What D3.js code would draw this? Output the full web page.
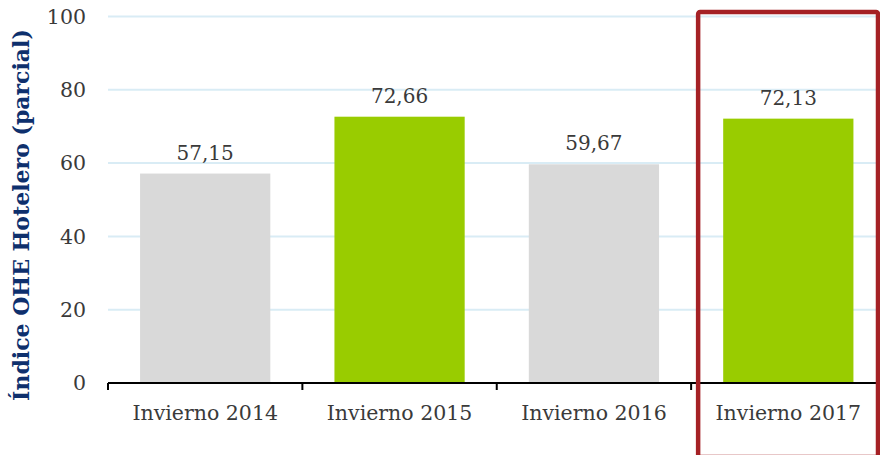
<!DOCTYPE html>
<html>
<head>
<meta charset="utf-8">
<script src="https://cdn.jsdelivr.net/npm/d3@7"></script>
<style>
  html, body { margin: 0; padding: 0; background: #fff; }
  svg { display: block; }
</style>
</head>
<body>
<svg id="chart" width="880" height="455"></svg>
<script>
// Winter hotel index (partial), one bar per season
const categories = ["Invierno 2014", "Invierno 2015", "Invierno 2016", "Invierno 2017"];
const values = [57.15, 72.66, 59.67, 72.13];
const valueLabels = ["57,15", "72,66", "59,67", "72,13"];
const barColors = ["#d9d9d9", "#99cc00", "#d9d9d9", "#99cc00"];
const yTicks = [0, 20, 40, 60, 80, 100];
const yTitle = "Índice OHE Hotelero (parcial)";
const highlighted = "Invierno 2017";

const svg = d3.select("#chart");
const FONT = "'DejaVu Serif', 'Liberation Serif', serif";

const x = d3.scaleBand()
  .domain(categories)
  .range([108, 885.5])
  .paddingInner(0.33)
  .paddingOuter(0.165);

const y = d3.scaleLinear().domain([0, 100]).range([383, 16.5]);

// horizontal gridlines
svg.append("g")
  .selectAll("line")
  .data(yTicks.filter(d => d > 0))
  .join("line")
  .attr("x1", 108).attr("x2", 880)
  .attr("y1", d => y(d)).attr("y2", d => y(d))
  .attr("stroke", "#d9ecf5")
  .attr("stroke-width", 2);

// y tick labels
svg.append("g")
  .selectAll("text")
  .data(yTicks)
  .join("text")
  .attr("x", 86)
  .attr("y", d => y(d))
  .attr("dy", "0.35em")
  .attr("text-anchor", "end")
  .attr("font-family", FONT)
  .attr("font-size", 20.5)
  .attr("fill", "#3a3a3a")
  .text(d => d);

// bars
svg.append("g")
  .selectAll("rect")
  .data(categories)
  .join("rect")
  .attr("x", d => x(d))
  .attr("width", x.bandwidth())
  .attr("y", (d, i) => y(values[i]))
  .attr("height", (d, i) => y(0) - y(values[i]))
  .attr("fill", (d, i) => barColors[i]);

// value labels
svg.append("g")
  .selectAll("text")
  .data(categories)
  .join("text")
  .attr("x", d => x(d) + x.bandwidth() / 2)
  .attr("y", (d, i) => y(values[i]) - 14)
  .attr("text-anchor", "middle")
  .attr("font-family", FONT)
  .attr("font-size", 20)
  .attr("fill", "#3a3a3a")
  .text((d, i) => valueLabels[i]);

// x axis with boundary ticks between categories
const step = x.step();
const x0 = x.range()[0];
const axis = svg.append("g");
axis.append("line")
  .attr("x1", x0).attr("x2", 880)
  .attr("y1", y(0)).attr("y2", y(0))
  .attr("stroke", "#000").attr("stroke-width", 2);
axis.selectAll("line.tick")
  .data(d3.range(categories.length + 1))
  .join("line")
  .attr("class", "tick")
  .attr("x1", i => x0 + i * step).attr("x2", i => x0 + i * step)
  .attr("y1", y(0)).attr("y2", y(0) + 7)
  .attr("stroke", "#000").attr("stroke-width", 2);
axis.selectAll("text")
  .data(categories)
  .join("text")
  .attr("x", d => x(d) + x.bandwidth() / 2)
  .attr("y", 420)
  .attr("text-anchor", "middle")
  .attr("font-family", FONT)
  .attr("font-size", 20.5)
  .attr("fill", "#3a3a3a")
  .text(d => d);

// y axis title
svg.append("text")
  .attr("transform", "translate(29,215) rotate(-90)")
  .attr("text-anchor", "middle")
  .attr("font-family", FONT)
  .attr("font-weight", "bold")
  .attr("font-size", 22)
  .attr("fill", "#0e306d")
  .text(yTitle);

// highlight frame around the latest season
const hx = x(highlighted) - (x.step() - x.bandwidth()) / 2;
svg.append("rect")
  .attr("x", hx + 7)
  .attr("y", 12)
  .attr("width", x.step() - 14.5)
  .attr("height", 445)
  .attr("rx", 2)
  .attr("fill", "none")
  .attr("stroke", "#a52125")
  .attr("stroke-width", 4.5);
</script>
</body>
</html>
